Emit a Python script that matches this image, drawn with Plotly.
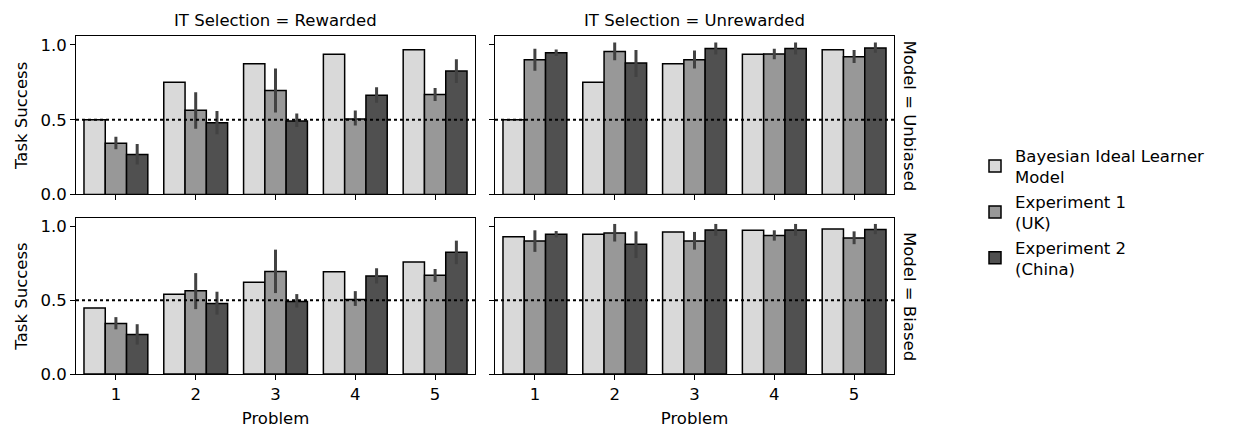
import plotly.graph_objects as go

problems = ["1", "2", "3", "4", "5"]

# Bayesian ideal learner model
bayes_rewarded_unbiased = [0.5, 0.75, 0.875, 0.9375, 0.96875]
bayes_unrewarded_unbiased = [0.5, 0.75, 0.875, 0.9375, 0.96875]
bayes_rewarded_biased = [0.448, 0.541, 0.622, 0.694, 0.760]
bayes_unrewarded_biased = [0.930, 0.948, 0.963, 0.974, 0.983]

# Experiment 1 (UK)
exp1_rewarded = [0.342, 0.564, 0.695, 0.505, 0.669]
exp1_rewarded_hi = [0.386, 0.684, 0.843, 0.562, 0.712]
exp1_rewarded_lo = [0.303, 0.440, 0.549, 0.462, 0.625]
exp1_unrewarded = [0.902, 0.956, 0.902, 0.939, 0.922]
exp1_unrewarded_hi = [0.974, 1.017, 0.963, 0.974, 0.967]
exp1_unrewarded_lo = [0.828, 0.898, 0.843, 0.904, 0.880]

# Experiment 2 (China)
exp2_rewarded = [0.268, 0.479, 0.492, 0.664, 0.826]
exp2_rewarded_hi = [0.338, 0.558, 0.542, 0.717, 0.904]
exp2_rewarded_lo = [0.200, 0.403, 0.451, 0.614, 0.745]
exp2_unrewarded = [0.948, 0.880, 0.976, 0.976, 0.980]
exp2_unrewarded_hi = [0.969, 0.967, 1.017, 1.017, 1.017]
exp2_unrewarded_lo = [0.926, 0.786, 0.937, 0.937, 0.948]

series_names = ["Bayesian Ideal Learner<br>Model", "Experiment 1<br>(UK)", "Experiment 2<br>(China)"]
colors = ["#d9d9d9", "#989898", "#505050"]
errcolor = "#424242"

# page body has an 8px margin; size the figure so it fits the window
OFF = 8
W, H = 1235 - 2 * OFF, 438 - 2 * OFF
FONT = "DejaVu Sans"
FS = 16.5


def px_x(p):
    return (p - OFF) / W


def px_y(p):
    return 1 - (p - OFF) / H


col_dom = [[px_x(76), px_x(475)], [px_x(495), px_x(894)]]
row_dom = [[px_y(199), px_y(37)], [px_y(383), px_y(223)]]  # top row, bottom row

panels = [
    (0, 0, bayes_rewarded_unbiased, exp1_rewarded, exp1_rewarded_hi, exp1_rewarded_lo, exp2_rewarded, exp2_rewarded_hi, exp2_rewarded_lo),
    (0, 1, bayes_unrewarded_unbiased, exp1_unrewarded, exp1_unrewarded_hi, exp1_unrewarded_lo, exp2_unrewarded, exp2_unrewarded_hi, exp2_unrewarded_lo),
    (1, 0, bayes_rewarded_biased, exp1_rewarded, exp1_rewarded_hi, exp1_rewarded_lo, exp2_rewarded, exp2_rewarded_hi, exp2_rewarded_lo),
    (1, 1, bayes_unrewarded_biased, exp1_unrewarded, exp1_unrewarded_hi, exp1_unrewarded_lo, exp2_unrewarded, exp2_unrewarded_hi, exp2_unrewarded_lo),
]

fig = go.Figure()
layout = {}
shapes = []
tfont = dict(family=FONT, size=FS, color="black")

for i, (r, c, bayes, e1, e1hi, e1lo, e2, e2hi, e2lo) in enumerate(panels):
    idx = i + 1
    xa = "x" if idx == 1 else f"x{idx}"
    ya = "y" if idx == 1 else f"y{idx}"
    show = (i == 0)
    fig.add_trace(go.Bar(
        x=problems, y=bayes, name=series_names[0], legendgroup="b", showlegend=show,
        marker=dict(color=colors[0], line=dict(color="black", width=1.5)),
        xaxis=xa, yaxis=ya, offsetgroup="0"))
    fig.add_trace(go.Bar(
        x=problems, y=e1, name=series_names[1], legendgroup="e1", showlegend=show,
        marker=dict(color=colors[1], line=dict(color="black", width=1.5)),
        error_y=dict(type="data", symmetric=False,
                     array=[h - v for h, v in zip(e1hi, e1)],
                     arrayminus=[v - l for l, v in zip(e1lo, e1)],
                     color=errcolor, thickness=3, width=0),
        xaxis=xa, yaxis=ya, offsetgroup="1"))
    fig.add_trace(go.Bar(
        x=problems, y=e2, name=series_names[2], legendgroup="e2", showlegend=show,
        marker=dict(color=colors[2], line=dict(color="black", width=1.5)),
        error_y=dict(type="data", symmetric=False,
                     array=[h - v for h, v in zip(e2hi, e2)],
                     arrayminus=[v - l for l, v in zip(e2lo, e2)],
                     color=errcolor, thickness=3, width=0),
        xaxis=xa, yaxis=ya, offsetgroup="2"))

    xkey = "xaxis" if idx == 1 else f"xaxis{idx}"
    ykey = "yaxis" if idx == 1 else f"yaxis{idx}"
    layout[xkey] = dict(
        domain=col_dom[c], anchor=ya, type="category", range=[-0.5, 4.5],
        showline=True, linecolor="black", linewidth=1, mirror=True,
        ticks="outside", ticklen=5, tickcolor="black",
        showticklabels=(r == 1), showgrid=False, zeroline=False,
        tickfont=tfont,
        title=dict(text="Problem" if r == 1 else "", font=tfont, standoff=9),
    )
    layout[ykey] = dict(
        domain=row_dom[r], anchor=xa, range=[0, 1.058],
        tickvals=[0, 0.5, 1.0], ticktext=["0.0", "0.5", "1.0"],
        showline=True, linecolor="black", linewidth=1, mirror=True,
        ticks="outside", ticklen=5, tickcolor="black",
        showticklabels=(c == 0), showgrid=False, zeroline=False,
        tickfont=tfont,
        title=dict(text="Task Success" if c == 0 else "", font=tfont, standoff=8),
    )
    shapes.append(dict(type="line", xref=f"{xa} domain", yref=ya, x0=0, x1=1, y0=0.5, y1=0.5,
                       line=dict(color="black", width=2, dash="dot")))

annotations = [
    dict(text="IT Selection = Rewarded", x=(col_dom[0][0] + col_dom[0][1]) / 2, y=px_y(21),
         xref="paper", yref="paper", showarrow=False, xanchor="center", yanchor="middle", font=tfont),
    dict(text="IT Selection = Unrewarded", x=(col_dom[1][0] + col_dom[1][1]) / 2, y=px_y(21),
         xref="paper", yref="paper", showarrow=False, xanchor="center", yanchor="middle", font=tfont),
    dict(text="Model = Unbiased", x=px_x(910), y=(row_dom[0][0] + row_dom[0][1]) / 2,
         xref="paper", yref="paper", showarrow=False, textangle=90, xanchor="center", yanchor="middle", font=tfont),
    dict(text="Model = Biased", x=px_x(910), y=(row_dom[1][0] + row_dom[1][1]) / 2,
         xref="paper", yref="paper", showarrow=False, textangle=90, xanchor="center", yanchor="middle", font=tfont),
]

fig.update_layout(
    width=W, height=H,
    margin=dict(l=0, r=0, t=0, b=0),
    paper_bgcolor="white", plot_bgcolor="white",
    barmode="group", bargap=0.2, bargroupgap=0,
    shapes=shapes, annotations=annotations,
    legend=dict(x=px_x(975), y=px_y(217), xanchor="left", yanchor="middle",
                font=dict(family=FONT, size=FS, color="black"),
                tracegroupgap=0, itemwidth=30, bgcolor="rgba(0,0,0,0)"),
    font=dict(family=FONT, size=FS, color="black"),
    **layout,
)

fig.write_html("out.html")
